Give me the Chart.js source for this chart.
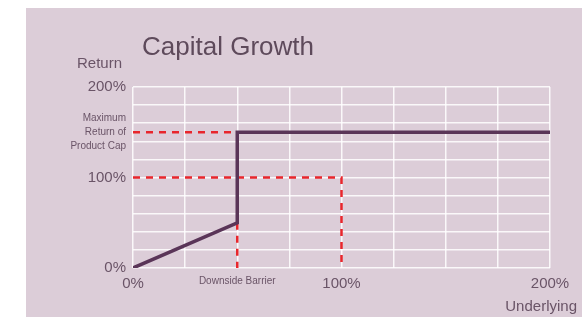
<!DOCTYPE html>
<html>
<head>
<meta charset="utf-8">
<script src="https://cdn.jsdelivr.net/npm/chart.js@4"></script>
<style>
  body { margin: 0; background: #fff; }
  #wrap { position: relative; width: 582px; height: 317px; overflow: hidden; }
  #panel { position: absolute; left: 26px; top: 8px; right: 0; bottom: 0; background: #dccdd8; }
  #chart { position: absolute; left: 0; top: 0; }
  .lbl { position: absolute; font-family: "Liberation Sans", Arial, sans-serif; color: #6a5467; white-space: nowrap; line-height: 1; }
  #title { left: 142px; top: 33px; font-size: 26px; color: #5e4a5b; }
  #ytitle { left: 77px; top: 55px; font-size: 15px; }
  #xtitle { right: 5px; top: 298px; font-size: 15px; }
</style>
</head>
<body>
<div id="wrap">
  <div id="panel"></div>
  <canvas id="chart" width="582" height="317"></canvas>
  <div class="lbl" id="title">Capital Growth</div>
  <div class="lbl" id="ytitle">Return</div>
  <div class="lbl" id="xtitle">Underlying</div>
</div>
<script>
// payoff profile (underlying %, return %)
const underlying = [0, 50, 50, 200];
const returns = [0, 50, 150, 150];
// red guide lines
const capX = [0, 50];
const capY = [150, 150];
const parX = [0, 100, 100];
const parY = [100, 100, 0];
const barrierX = [50, 50];
const barrierY = [50, 0];
// tick labels
const xLabels = { 0: '0%', 50: 'Downside Barrier', 100: '100%', 200: '200%' };
const yLabels = { 0: '0%', 100: '100%', 150: ['Maximum', 'Return of', 'Product Cap'], 200: '200%' };

const pts = (xs, ys) => xs.map((x, i) => ({ x: x, y: ys[i] }));
const dashed = (xs, ys) => ({
    data: pts(xs, ys), borderColor: '#e8262c', borderWidth: 2.5, borderDash: [7, 6],
    pointRadius: 0, showLine: true, fill: false, order: 2
});

const textColor = '#6a5467';
const gridWhite = 'rgba(255,255,255,0.85)';

new Chart(document.getElementById('chart'), {
    type: 'scatter',
    data: {
        datasets: [
            {
                data: pts(underlying, returns), borderColor: '#5a3558', borderWidth: 3.5,
                pointRadius: 0, showLine: true, fill: false, order: 1, borderJoinStyle: 'miter'
            },
            dashed(capX, capY),
            dashed(parX, parY),
            dashed(barrierX, barrierY)
        ]
    },
    options: {
        responsive: false,
        animation: false,
        layout: { padding: { left: 0, top: 87, right: 32, bottom: 0 } },
        plugins: { legend: { display: false }, tooltip: { enabled: false } },
        scales: {
            x: {
                type: 'linear', min: 0, max: 200,
                afterFit: (s) => { s.height = 49; },
                grid: { color: gridWhite, lineWidth: 1.5, drawTicks: false },
                border: { display: false },
                ticks: {
                    stepSize: 25, autoSkip: false, maxRotation: 0, padding: 7, color: textColor,
                    font: (ctx) => (ctx.tick && ctx.tick.value === 50)
                        ? { family: 'Liberation Sans', size: 10 }
                        : { family: 'Liberation Sans', size: 15 },
                    callback: (v) => xLabels[v] || ''
                }
            },
            y: {
                type: 'linear', min: 0, max: 200,
                afterFit: (s) => { s.width = 133; },
                afterBuildTicks: (s) => {
                    const t = [];
                    for (let v = 0; v <= 200; v += 20) {
                        t.push({ value: v });
                        if (v === 140) t.push({ value: 150 });
                    }
                    s.ticks = t;
                },
                grid: {
                    color: (ctx) => (ctx.tick && ctx.tick.value === 150) ? 'rgba(0,0,0,0)' : gridWhite,
                    lineWidth: 1.5, drawTicks: false
                },
                border: { display: false },
                ticks: {
                    autoSkip: false, padding: 7, color: textColor,
                    font: (ctx) => (ctx.tick && ctx.tick.value === 150)
                        ? { family: 'Liberation Sans', size: 10, lineHeight: 1.4 }
                        : { family: 'Liberation Sans', size: 15 },
                    callback: (v) => yLabels[v] || ''
                }
            }
        }
    }
});
</script>
</body>
</html>
